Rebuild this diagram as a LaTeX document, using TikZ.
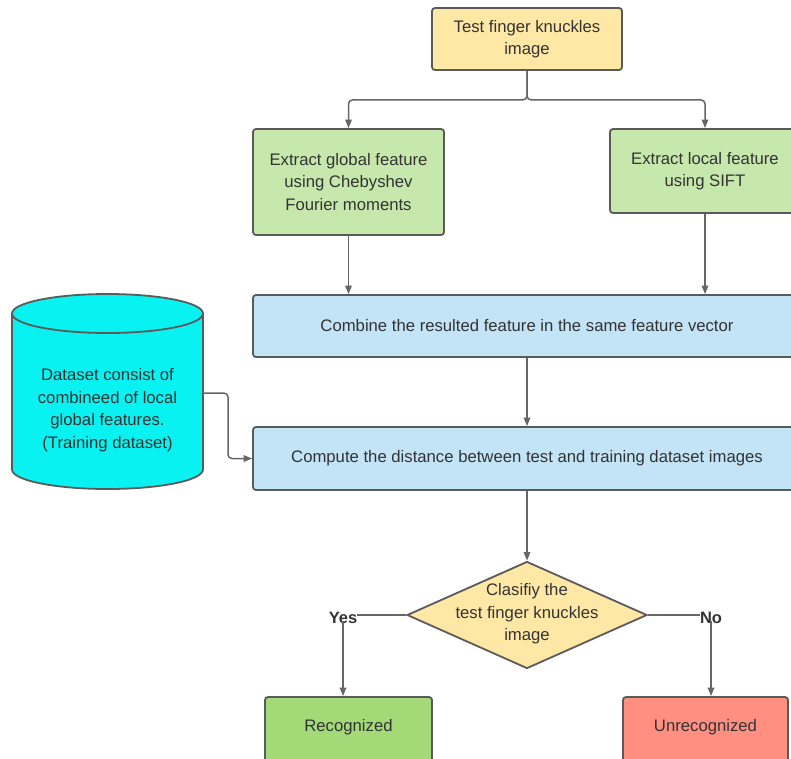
\documentclass[tikz,border=0pt]{standalone}
\usepackage{fontspec}
\setmainfont{Liberation Sans}
\usetikzlibrary{shapes.geometric,arrows.meta}
\definecolor{bordc}{HTML}{5A5A5A}
\definecolor{linec}{HTML}{666666}
\definecolor{txtc}{HTML}{333333}
\definecolor{yel}{HTML}{FFE8A6}
\definecolor{grn}{HTML}{C7E8AC}
\definecolor{blu}{HTML}{C3E4F6}
\definecolor{cyn}{HTML}{08F2F2}
\definecolor{okg}{HTML}{A3D977}
\definecolor{nog}{HTML}{FF8F80}
\begin{document}
\begin{tikzpicture}[x=1pt,y=-1pt,
  box/.style={draw=bordc, line width=1.8pt, rounded corners=3pt, align=center,
    text=txtc, font=\fontsize{16.7}{22.5}\selectfont, inner sep=0pt},
  txt/.style={align=center, text=txtc, font=\fontsize{16.7}{22.5}\selectfont, inner sep=0pt},
  conn/.style={draw=linec, line width=1.5pt, rounded corners=4pt},
  arr/.style={conn, -{Triangle[length=8.5pt,width=6.5pt]}}
]
\useasboundingbox (0,0) rectangle (791,758);

% boxes
\node[box, fill=yel, minimum width=190pt, minimum height=62pt] (top) at (527,39)
  {Test finger knuckles\\image};
\node[box, fill=grn, minimum width=191pt, minimum height=106pt] (g1) at (348.5,182)
  {Extract global feature\\using Chebyshev\\Fourier moments};
\node[box, fill=grn, minimum width=190pt, minimum height=84pt] (g2) at (705,171)
  {Extract local feature\\using SIFT};
\node[box, fill=blu, minimum width=548pt, minimum height=62pt] (b1) at (527,326)
  {Combine the resulted feature in the same feature vector};
\node[box, fill=blu, minimum width=548pt, minimum height=63pt] (b2) at (527,458.5)
  {Compute the distance between test and training dataset images};

% cylinder
\fill[cyn, draw=bordc, line width=1.8pt] (107.5,469.5) ellipse [x radius=95.5pt, y radius=19.5pt];
\fill[cyn] (12,313.5) rectangle (203,469.5);
\draw[bordc, line width=1.8pt] (12,313.5) -- (12,469.5) (203,313.5) -- (203,469.5);
\fill[cyn, draw=bordc, line width=1.8pt] (107.5,313.5) ellipse [x radius=95.5pt, y radius=19.5pt];
\node[txt] (db) at (107.5,410)
  {Dataset consist of\\combineed of local\\global features.\\(Training dataset)};
\coordinate (dbout) at (203,393);

% decision
\node[draw=bordc, line width=1.8pt, fill=yel, diamond, aspect=2.24, inner sep=0pt,
  minimum width=240pt, minimum height=107pt] (dia) at (527,615) {};
\node[txt] (diatxt) at (527,614) {Clasifiy the\\test finger knuckles\\image};

\node[txt, font=\fontsize{16.5}{20}\selectfont\bfseries] (yes) at (343,618) {Yes};
\node[txt, font=\fontsize{16.5}{20}\selectfont\bfseries] (no) at (711,618) {No};

\node[box, fill=okg, minimum width=167pt, minimum height=70pt,
  label={[txt, yshift=5pt]center:Recognized}] (rec) at (348.5,732) {};
\node[box, fill=nog, minimum width=165pt, minimum height=70pt,
  label={[txt, yshift=5pt]center:Unrecognized}] (unr) at (705.5,732) {};

% connectors
\draw[arr] (top.south) -- ++(0,29) -| (g1.north);
\draw[arr] (top.south) -- ++(0,29) -| (g2.north);
\draw[arr] (g1.south) -- (g1.south |- b1.north);
\draw[arr] (g2.south) -- (g2.south |- b1.north);
\draw[arr] (b1.south) -- (b2.north);
\draw[arr] (dbout) -- ++(25,0) |- (b2.west);
\draw[arr] (b2.south) -- (dia.north);
\draw[conn] (dia.west) -- (dia.west -| yes.east);
\draw[conn] (dia.east) -- (dia.east -| no.west);
\draw[arr] (yes.south) ++(0,-3) -- (yes.south |- rec.north);
\draw[arr] (no.south) ++(0,-3) -- (no.south |- unr.north);
\end{tikzpicture}
\end{document}
